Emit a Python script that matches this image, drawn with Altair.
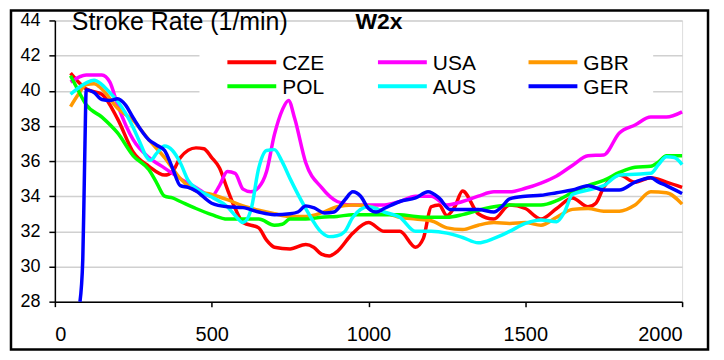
import altair as alt
import pandas as pd

FONT = "Liberation Sans"

TEAMS = ["CZE", "USA", "GBR", "POL", "AUS", "GER"]
COLORS = ["#FF0000", "#FF00FF", "#FF9900", "#00FF00", "#00FFFF", "#0000FF"]

X_TICKS = [0, 500, 1000, 1500, 2000]
Y_TICKS = [28, 30, 32, 34, 36, 38, 40, 42, 44]

CZE_D = [50, 75, 100, 150, 200, 250, 300, 350, 375, 400, 450, 475, 500, 525, 550, 575, 600, 650, 675, 700,
         750, 800, 825, 850, 875, 900, 950, 1000, 1050, 1100, 1150, 1175, 1200, 1225, 1250, 1275, 1300,
         1350, 1400, 1450, 1500, 1550, 1600, 1650, 1700, 1725, 1750, 1800, 1850, 1900, 1950, 2000]
CZE_R = [41.0, 40.5, 40.1, 39.8, 38.4, 36.5, 35.7, 35.2, 35.4, 36.2, 36.75, 36.7, 36.2, 35.6, 34.4, 33.3, 32.5, 32.2, 31.5, 31.1,
         31.0, 31.25, 31.1, 30.7, 30.6, 30.85, 31.9, 32.5, 32.0, 32.0, 31.1, 31.6, 33.4, 33.5, 32.9, 33.4, 34.3,
         33.0, 32.7, 33.5, 33.3, 32.7, 33.3, 33.9, 33.4, 33.6, 34.5, 35.2, 34.8, 35.05, 34.8, 34.5]

USA_D = [50, 100, 150, 175, 200, 250, 300, 350, 400, 450, 500, 525, 550, 575, 600, 625, 650, 675, 700, 725,
         745, 765, 800, 850, 900, 950, 1000, 1050, 1100, 1150, 1200, 1250, 1300, 1350, 1400, 1450, 1500,
         1550, 1600, 1650, 1700, 1750, 1800, 1850, 1900, 1950, 2000]
USA_R = [40.5, 40.9, 40.9, 40.5, 39.2, 37.2, 36.2, 35.6, 35.0, 34.5, 34.0, 34.6, 35.4, 35.3, 34.4, 34.25, 34.5, 35.4, 37.5, 38.9,
         39.45, 38.4, 35.9, 34.5, 33.7, 33.5, 33.5, 33.5, 33.7, 34.0, 34.0, 33.5, 33.7, 34.0, 34.25, 34.25, 34.45,
         34.75, 35.15, 35.75, 36.3, 36.35, 37.6, 38.05, 38.5, 38.5, 38.8]

GBR_D = [50, 75, 100, 125, 150, 200, 250, 300, 350, 400, 450, 500, 550, 600, 650, 700, 750, 800, 850, 900,
         950, 1000, 1050, 1100, 1150, 1200, 1250, 1300, 1350, 1400, 1450, 1500, 1550, 1600, 1650, 1700,
         1750, 1800, 1850, 1900, 1950, 2000]
GBR_R = [39.1, 39.8, 40.35, 40.4, 40.1, 39.0, 38.3, 37.2, 36.2, 35.0, 34.3, 34.1, 33.8, 33.45, 33.2, 33.0, 32.85, 32.85, 33.05, 33.4,
         33.5, 33.45, 33.1, 32.8, 32.7, 32.6, 32.2, 32.1, 32.35, 32.5, 32.45, 32.5, 32.35, 32.8, 33.25, 33.3,
         33.15, 33.15, 33.5, 34.25, 34.2, 33.55]

POL_D = [50, 75, 100, 150, 200, 250, 300, 325, 350, 375, 400, 450, 500, 550, 600, 650, 700, 725, 750, 800,
         850, 900, 950, 1000, 1050, 1100, 1150, 1200, 1250, 1300, 1350, 1400, 1450, 1500, 1550, 1600, 1650,
         1700, 1750, 1800, 1850, 1900, 1925, 1950, 2000]
POL_R = [40.85, 40.0, 39.2, 38.5, 37.6, 36.3, 35.5, 34.75, 34.0, 33.9, 33.7, 33.3, 32.95, 32.7, 32.7, 32.7, 32.35, 32.4, 32.7, 32.7,
         32.8, 32.85, 32.95, 32.95, 32.95, 32.95, 32.85, 32.8, 32.8, 32.95, 33.2, 33.4, 33.5, 33.5, 33.5, 33.75, 34.2,
         34.6, 34.9, 35.35, 35.65, 35.7, 35.95, 36.3, 36.3]

AUS_D = [50, 100, 125, 150, 175, 200, 250, 275, 290, 305, 325, 350, 375, 400, 425, 450, 500, 550, 575, 600,
         625, 650, 675, 700, 725, 750, 800, 850, 875, 900, 925, 950, 1000, 1050, 1100, 1150, 1200, 1250,
         1300, 1350, 1400, 1450, 1500, 1550, 1600, 1625, 1650, 1700, 1750, 1800, 1850, 1900, 1925, 1950,
         1975, 2000]
AUS_R = [39.8, 40.45, 40.6, 40.35, 39.9, 39.4, 37.9, 36.9, 36.3, 36.05, 36.45, 36.85, 36.6, 35.9, 34.9, 34.45, 33.95, 33.4, 32.9, 32.5,
         33.2, 35.6, 36.6, 36.65, 35.95, 35.0, 33.3, 31.95, 31.7, 31.75, 32.0, 32.8, 33.4, 33.1, 32.8, 32.0, 32.0, 31.9,
         31.65, 31.35, 31.6, 32.0, 32.45, 32.65, 32.55, 33.1, 34.1, 34.35, 34.6, 35.2, 35.25, 35.3, 35.8, 36.25,
         36.2, 35.8]

GER_D = [80, 89, 93, 96, 100, 125, 150, 175, 200, 225, 250, 300, 325, 350, 375, 400, 425, 450, 500, 550,
         600, 650, 700, 750, 775, 800, 825, 860, 890, 925, 950, 975, 1000, 1025, 1050, 1100, 1150, 1190,
         1225, 1260, 1300, 1350, 1400, 1425, 1450, 1500, 1550, 1600, 1650, 1700, 1750, 1800, 1850, 1900,
         1925, 1950, 2000]
GER_R = [28.0, 30.4, 34.0, 37.0, 40.05, 39.9, 39.5, 39.45, 39.55, 39.2, 38.45, 37.2, 36.9, 36.6, 35.6, 34.6, 34.5, 34.3, 33.6, 33.4,
         33.35, 33.1, 32.95, 33.0, 33.1, 33.45, 33.35, 33.05, 33.1, 33.8, 34.25, 34.0, 33.3, 33.1, 33.3, 33.7, 33.9, 34.25,
         33.9, 33.25, 33.25, 33.25, 33.1, 33.4, 33.85, 34.0, 34.05, 34.2, 34.35, 34.6, 34.35, 34.35, 34.8, 35.05,
         34.8, 34.6, 34.15]

SERIES = {
    "CZE": (CZE_D, CZE_R),
    "USA": (USA_D, USA_R),
    "GBR": (GBR_D, GBR_R),
    "POL": (POL_D, POL_R),
    "AUS": (AUS_D, AUS_R),
    "GER": (GER_D, GER_R),
}

rows = []
for team in TEAMS:
    d, r = SERIES[team]
    for di, ri in zip(d, r):
        rows.append({"team": team, "dist": di, "rate": ri})
df = pd.DataFrame(rows)

# legend layout (pixels, relative to plot area)
leg_rows = []
for i, team in enumerate(TEAMS):
    col, row = i % 3, i // 3
    lx = 173 + col * 151
    ly = 42 + row * 24
    leg_rows.append({"team": team, "lx": lx, "lx2": lx + 49, "ly": ly, "tx": lx + 55, "ty": ly + 7.5})
leg = pd.DataFrame(leg_rows)

color = alt.Color("team:N", scale=alt.Scale(domain=TEAMS, range=COLORS), legend=None)

x_axis = alt.Axis(values=X_TICKS, format="d", title=None, grid=False, domainColor="black", domainWidth=1.5,
                  tickColor="black", tickWidth=1.5, tickSize=5, labelFont=FONT, labelFontSize=20,
                  labelColor="black", labelPadding=18)
y_axis = alt.Axis(values=Y_TICKS, format="d", title=None, grid=True, gridColor="#d0d0d0", gridWidth=1.5,
                  domainColor="black", domainWidth=1.5, tickColor="black", tickWidth=1.5, tickSize=6,
                  labelFont=FONT, labelFontSize=18, labelColor="black", labelPadding=9)

lines = alt.Chart(df).mark_line(strokeWidth=3.5, interpolate="monotone").encode(
    x=alt.X("dist:Q", scale=alt.Scale(domain=[0, 2000], nice=False, zero=False), axis=x_axis),
    y=alt.Y("rate:Q", scale=alt.Scale(domain=[28, 44], nice=False, zero=False), axis=y_axis),
    color=color,
    order=alt.Order("dist:Q"),
)

one = pd.DataFrame({"a": [0]})

legend_box = alt.Chart(one).mark_rect(fill="white").encode(
    x=alt.value(145), x2=alt.value(600), y=alt.value(26), y2=alt.value(79)
)

legend_lines = alt.Chart(leg).mark_rule(strokeWidth=4).encode(
    x=alt.X("lx:Q", scale=None, axis=None),
    x2="lx2:Q",
    y=alt.Y("ly:Q", scale=None, axis=None),
    color=color,
)

legend_text = alt.Chart(leg).mark_text(align="left", baseline="alphabetic", font=FONT, fontSize=21,
                                       color="black").encode(
    x=alt.X("tx:Q", scale=None, axis=None),
    y=alt.Y("ty:Q", scale=None, axis=None),
    text="team:N",
)

title = alt.Chart(one).mark_text(text="Stroke Rate (1/min)", align="left", baseline="alphabetic",
                                 font=FONT, fontSize=25, color="black").encode(
    x=alt.value(17), y=alt.value(9.5)
)

subtitle = alt.Chart(one).mark_text(text="W2x", align="center", baseline="alphabetic", font=FONT,
                                    fontSize=23, fontWeight="bold", color="black").encode(
    x=alt.value(325), y=alt.value(9)
)

border = alt.Chart(one).mark_rect(fillOpacity=0, stroke="black", strokeWidth=2.5).encode(
    x=alt.value(-44), x2=alt.value(655), y=alt.value(-10), y2=alt.value(330)
)

chart = alt.layer(
    legend_box, lines, legend_lines, legend_text, title, subtitle, border
).resolve_scale(
    x="independent", y="independent"
).properties(
    width=629, height=282,
    autosize=alt.AutoSizeParams(type="none"),
    padding={"left": 47, "top": 12, "right": 34, "bottom": 50},
).configure_view(strokeOpacity=0).configure(background="white")

chart.save("out.html", embed_options={"renderer": "svg", "actions": False})
